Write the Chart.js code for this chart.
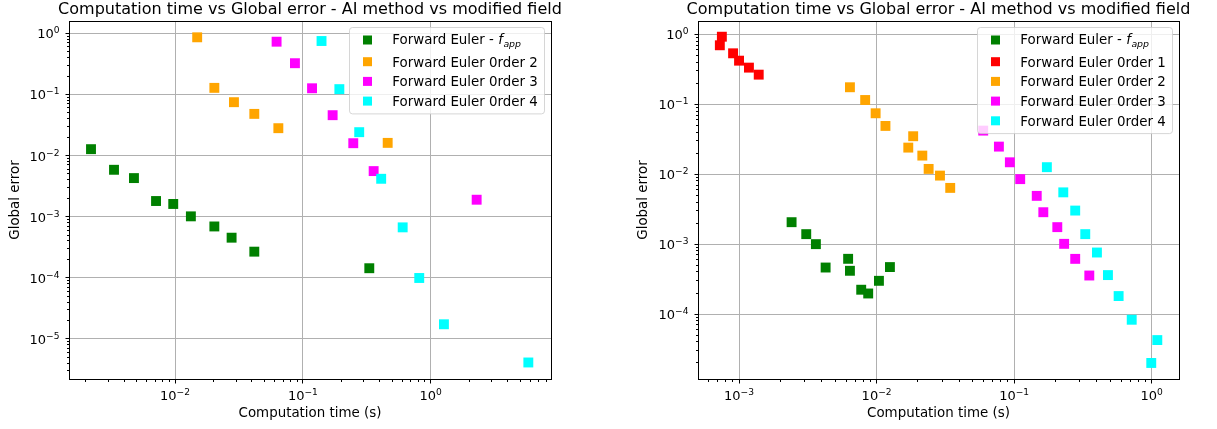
<!DOCTYPE html>
<html>
<head>
<meta charset="utf-8">
<script src="https://cdn.jsdelivr.net/npm/chart.js@4.4.1/dist/chart.umd.min.js"></script>
<style>
  body { margin: 0; background: #fff; }
  #wrap { position: relative; width: 1217px; height: 429px; }
  canvas { position: absolute; top: 0; }
</style>
</head>
<body>
<div id="wrap">
  <canvas id="leftChart" width="620" height="429" style="left:0"></canvas>
  <canvas id="rightChart" width="597" height="429" style="left:620px"></canvas>
</div>
<script>
// left panel
const leftLabels = ['Forward Euler - f_app', 'Forward Euler 0rder 2', 'Forward Euler 0rder 3', 'Forward Euler 0rder 4'];
const leftFappTime = [0.0022, 0.00333, 0.00477, 0.0071, 0.00968, 0.0133, 0.0203, 0.0277, 0.0417, 0.331];
const leftFappError = [0.0127, 0.00584, 0.00427, 0.0018, 0.00161, 0.00101, 0.00069, 0.000452, 0.000267, 0.000143];
const leftOrder2Time = [0.0149, 0.0203, 0.0289, 0.0417, 0.0643, 0.461];
const leftOrder2Error = [0.86, 0.128, 0.0746, 0.048, 0.028, 0.0161];
const leftOrder3Time = [0.0623, 0.0867, 0.118, 0.171, 0.248, 0.358, 2.29];
const leftOrder3Error = [0.729, 0.324, 0.126, 0.0457, 0.0159, 0.00556, 0.00189];
const leftOrder4Time = [0.140, 0.193, 0.276, 0.410, 0.604, 0.814, 1.27, 5.81];
const leftOrder4Error = [0.748, 0.122, 0.0241, 0.00416, 0.000667, 0.000099, 0.0000173, 0.0000041];
const leftXTicks = [1e-2, 1e-1, 1];
const leftXTickLabels = ['10^{\u22122}', '10^{\u22121}', '10^{0}'];
const leftYTicks = [1, 1e-1, 1e-2, 1e-3, 1e-4, 1e-5];
const leftYTickLabels = ['10^{0}', '10^{\u22121}', '10^{\u22122}', '10^{\u22123}', '10^{\u22124}', '10^{\u22125}'];

// right panel
const rightLabels = ['Forward Euler - f_app', 'Forward Euler 0rder 1', 'Forward Euler 0rder 2', 'Forward Euler 0rder 3', 'Forward Euler 0rder 4'];
const rightFappTime = [0.00241, 0.00308, 0.00362, 0.00426, 0.00621, 0.0064, 0.00773, 0.00869, 0.0104, 0.0125];
const rightFappError = [0.00206, 0.00139, 0.001, 0.000463, 0.000617, 0.000416, 0.000223, 0.000197, 0.000299, 0.00047];
const rightOrder1Time = [0.00075, 0.000725, 0.000905, 0.001, 0.00118, 0.00139];
const rightOrder1Error = [0.924, 0.697, 0.535, 0.42, 0.334, 0.265];
const rightOrder2Time = [0.0064, 0.00826, 0.00984, 0.0116, 0.01845, 0.017, 0.0215, 0.0239, 0.0289, 0.0343];
const rightOrder2Error = [0.175, 0.115, 0.0743, 0.049, 0.0349, 0.024, 0.01845, 0.0119, 0.00955, 0.00637];
const rightOrder3Time = [0.0596, 0.0775, 0.0931, 0.1107, 0.146, 0.163, 0.206, 0.231, 0.278, 0.352];
const rightOrder3Error = [0.042, 0.0248, 0.0148, 0.0085, 0.0049, 0.00286, 0.00175, 0.00101, 0.000616, 0.000356];
const rightOrder4Time = [0.173, 0.2277, 0.278, 0.329, 0.40, 0.481, 0.575, 0.716, 1.099, 0.993];
const rightOrder4Error = [0.0126, 0.0055, 0.00302, 0.00139, 0.000759, 0.000361, 0.000181, 0.000083, 0.0000425, 0.00002];
const rightXTicks = [1e-3, 1e-2, 1e-1, 1];
const rightXTickLabels = ['10^{\u22123}', '10^{\u22122}', '10^{\u22121}', '10^{0}'];
const rightYTicks = [1, 1e-1, 1e-2, 1e-3, 1e-4];
const rightYTickLabels = ['10^{0}', '10^{\u22121}', '10^{\u22122}', '10^{\u22123}', '10^{\u22124}'];

const TITLE = 'Computation time vs Global error - AI method vs modified field';
const FONT = "'DejaVu Sans', sans-serif";

function pairs(xs, ys) {
  return xs.map((x, i) => ({ x: x, y: ys[i] }));
}

function logTicks(min, max) {
  const out = [];
  for (let e = Math.floor(Math.log10(min)); e <= Math.ceil(Math.log10(max)); e++) {
    for (let m = 1; m < 10; m++) {
      const v = m * Math.pow(10, e);
      if (v >= min && v <= max) out.push({ value: v, major: m === 1 });
    }
  }
  return out;
}

// "10^{-2}" drawn as base + raised exponent, like mathtext
function drawPower(ctx, label, x, y, align) {
  const m = label.match(/^(\d+)\^\{(.+)\}$/);
  ctx.font = '13px ' + FONT;
  const wb = ctx.measureText(m[1]).width;
  ctx.font = '9.1px ' + FONT;
  const we = ctx.measureText(m[2]).width;
  let x0 = align === 'center' ? x - (wb + we) / 2 : x - wb - we;
  ctx.textAlign = 'left';
  ctx.font = '13px ' + FONT;
  ctx.fillText(m[1], x0, y);
  ctx.font = '9.1px ' + FONT;
  ctx.fillText(m[2], x0 + wb, y - 5);
}

function drawLabel(ctx, text, x, y) {
  const m = text.match(/^(.*)f_(\w+)$/);
  ctx.font = '13.4px ' + FONT;
  if (!m) {
    ctx.fillText(text, x, y + 4.9);
    return;
  }
  y -= 1.2;
  ctx.fillText(m[1], x, y + 4.9);
  x += ctx.measureText(m[1]).width;
  ctx.font = 'italic 13.4px ' + FONT;
  ctx.fillText('f', x, y + 4.9);
  x += ctx.measureText('f').width + 0.5;
  ctx.font = 'italic 9.4px ' + FONT;
  ctx.fillText(m[2], x, y + 8);
}

const panelPlugin = {
  id: 'panel',
  afterDatasetsDraw(chart, args, opts) {
    const ctx = chart.ctx;
    const a = chart.chartArea;
    const al = (p) => Math.round(p - 0.5) + 0.5;
    ctx.save();
    // spines
    ctx.strokeStyle = '#000';
    ctx.lineWidth = 1;
    ctx.strokeRect(al(a.left), al(a.top), al(a.right) - al(a.left), al(a.bottom) - al(a.top));
    // tick marks
    ctx.beginPath();
    const xs = chart.scales.x, ys = chart.scales.y;
    xs.ticks.forEach((t) => {
      const p = al(xs.getPixelForValue(t.value));
      ctx.moveTo(p, al(a.bottom));
      ctx.lineTo(p, al(a.bottom) + (t.major ? 4 : 2.5));
    });
    ys.ticks.forEach((t) => {
      const p = al(ys.getPixelForValue(t.value));
      ctx.moveTo(al(a.left), p);
      ctx.lineTo(al(a.left) - (t.major ? 4 : 2.5), p);
    });
    ctx.stroke();

    // tick labels
    ctx.fillStyle = '#000';
    opts.xTicks.forEach((v, i) => {
      drawPower(ctx, opts.xLabels[i], xs.getPixelForValue(v), a.bottom + 21, 'center');
    });
    opts.yTicks.forEach((v, i) => {
      drawPower(ctx, opts.yLabels[i], a.left - 9.5, ys.getPixelForValue(v) + 5, 'right');
    });

    // legend
    const sets = chart.data.datasets;
    const w = 195, h = 47 + (sets.length - 2) * 19.7;
    const x0 = a.right - 7 - w, y0 = a.top + 6;
    ctx.beginPath();
    ctx.roundRect(x0 + 0.5, y0 + 0.5, w, h, 3);
    ctx.fillStyle = 'rgba(255,255,255,0.8)';
    ctx.fill();
    ctx.strokeStyle = 'rgba(204,204,204,0.8)';
    ctx.stroke();
    let y = y0 + 13;
    sets.forEach((ds, i) => {
      if (i === 1) y += 21.7;
      else if (i > 1) y += 19.7;
      ctx.fillStyle = ds.backgroundColor;
      ctx.fillRect(x0 + 14, y - 4.5, 9, 9);
      ctx.fillStyle = '#000';
      ctx.textAlign = 'left';
      drawLabel(ctx, ds.label, x0 + 43.3, y);
    });

    // title
    ctx.font = '16px ' + FONT;
    ctx.textAlign = 'center';
    ctx.fillStyle = '#000';
    ctx.fillText(TITLE, (a.left + a.right) / 2, 14);
    ctx.restore();
  }
};

function makeChart(id, series, colors, range, ticks, yAxisWidth, yTitlePad, rightPad) {
  const ctx = document.getElementById(id).getContext('2d');
  const gridColor = (c) => (c.tick && c.tick.major ? '#b0b0b0' : 'rgba(0,0,0,0)');
  return new Chart(ctx, {
    type: 'scatter',
    data: {
      datasets: series.map((s, i) => ({
        label: s.label,
        data: pairs(s.x, s.y),
        backgroundColor: colors[i],
        borderColor: colors[i],
        borderWidth: 0,
        pointStyle: 'rect',
        pointRadius: 7,
        pointHoverRadius: 7,
        order: series.length - i,
      })),
    },
    options: {
      responsive: false,
      animation: false,
      events: [],
      layout: { padding: { left: 0, right: rightPad, top: 21, bottom: 0 } },
      plugins: {
        legend: { display: false },
        tooltip: { enabled: false },
        panel: ticks,
      },
      scales: {
        x: {
          type: 'logarithmic',
          min: range.xMin,
          max: range.xMax,
          afterBuildTicks: (s) => { s.ticks = logTicks(s.min, s.max); },
          afterFit: (s) => { s.height = 50; },
          grid: { color: gridColor, lineWidth: 1, drawTicks: false },
          border: { display: false },
          ticks: { display: false, autoSkip: false, maxRotation: 0 },
          title: {
            display: true, text: 'Computation time (s)', color: '#000',
            font: { family: FONT, size: 13.4 }, padding: { top: 0, bottom: 7 },
          },
        },
        y: {
          type: 'logarithmic',
          min: range.yMin,
          max: range.yMax,
          afterBuildTicks: (s) => { s.ticks = logTicks(s.min, s.max); },
          afterFit: (s) => { s.width = yAxisWidth; },
          grid: { color: gridColor, lineWidth: 1, drawTicks: false },
          border: { display: false },
          ticks: { display: false, autoSkip: false },
          title: {
            display: true, text: 'Global error', color: '#000',
            font: { family: FONT, size: 13.4 }, padding: { top: yTitlePad, bottom: 0 },
          },
        },
      },
    },
    plugins: [panelPlugin],
  });
}

makeChart('leftChart', [
  { label: leftLabels[0], x: leftFappTime, y: leftFappError },
  { label: leftLabels[1], x: leftOrder2Time, y: leftOrder2Error },
  { label: leftLabels[2], x: leftOrder3Time, y: leftOrder3Error },
  { label: leftLabels[3], x: leftOrder4Time, y: leftOrder4Error },
], ['green', 'orange', 'magenta', 'cyan'],
  { xMin: 1.48e-3, xMax: 8.74, yMin: 2.2e-6, yMax: 1.59 },
  { xTicks: leftXTicks, xLabels: leftXTickLabels, yTicks: leftYTicks, yLabels: leftYTickLabels },
  69, 7, 69);

makeChart('rightChart', [
  { label: rightLabels[0], x: rightFappTime, y: rightFappError },
  { label: rightLabels[1], x: rightOrder1Time, y: rightOrder1Error },
  { label: rightLabels[2], x: rightOrder2Time, y: rightOrder2Error },
  { label: rightLabels[3], x: rightOrder3Time, y: rightOrder3Error },
  { label: rightLabels[4], x: rightOrder4Time, y: rightOrder4Error },
], ['green', 'red', 'orange', 'magenta', 'cyan'],
  { xMin: 5.03e-4, xMax: 1.58, yMin: 1.18e-5, yMax: 1.55 },
  { xTicks: rightXTicks, xLabels: rightXTickLabels, yTicks: rightYTicks, yLabels: rightYTickLabels },
  78, 15, 38);
</script>
</body>
</html>
